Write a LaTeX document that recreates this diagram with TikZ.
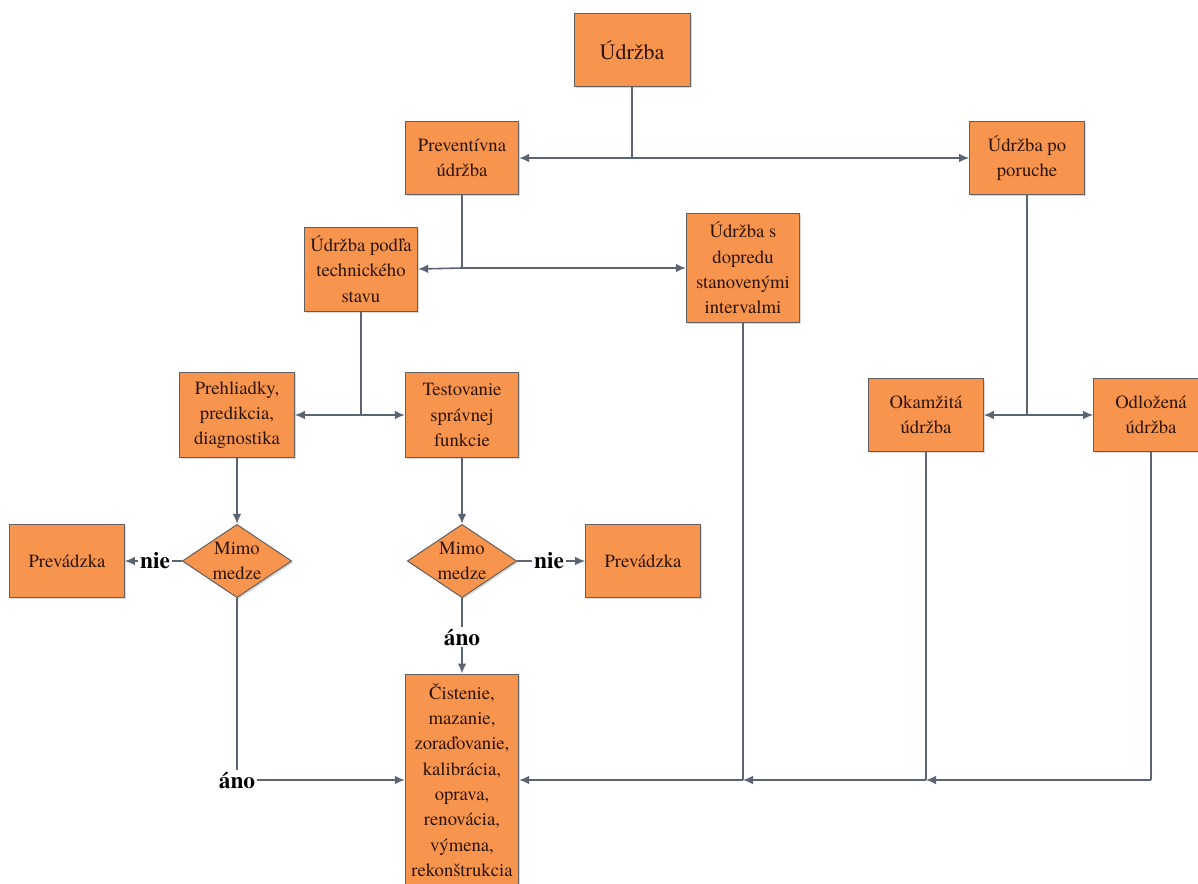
\documentclass[tikz,border=0pt]{standalone}
\usepackage{fontspec}
\setmainfont{texgyretermes-regular.otf}[BoldFont=texgyretermes-bold.otf]
\usetikzlibrary{arrows.meta,shapes.geometric,shadows}

\definecolor{boxfill}{RGB}{247,148,78}
\definecolor{boxline}{RGB}{100,95,95}
\definecolor{linkgray}{RGB}{92,100,115}
\definecolor{boxtext}{RGB}{45,20,8}

\tikzset{every picture/.style={line width=0.75pt}}
\tikzset{
	box/.style={draw=boxline, fill=boxfill, text=boxtext, align=center, inner sep=2pt,
		font=\fontsize{14}{19}\selectfont, minimum width=85pt, minimum height=55pt,
		drop shadow={shadow xshift=1.2pt, shadow yshift=-1.2pt, opacity=0.3}},
	choice/.style={diamond, aspect=1.5, inner sep=0pt, draw=boxline, fill=boxfill, text=boxtext,
		align=center, font=\fontsize{14}{19}\selectfont, minimum width=82pt, minimum height=55pt,
		drop shadow={shadow xshift=1.2pt, shadow yshift=-1.2pt, opacity=0.3}},
	answer/.style={font=\fontsize{17.5}{20}\selectfont\bfseries, text=black, inner sep=1pt},
	link/.style={draw=linkgray, line width=1.2pt},
	arr/.style={link, -{Latex[length=7.5pt,width=6.5pt]}}
}

\begin{document}
\begin{tikzpicture}[x=0.75pt,y=0.75pt,yscale=-1,xscale=1]
	\useasboundingbox (0,0) rectangle (1198,883);

	% boxes, top to bottom
	\node[box, minimum width=87pt, font=\fontsize{16.5}{20}\selectfont] (udrzba) at (632,50) {Údržba};
	\node[box] (prev) at (462,158) {Preventívna\\údržba};
	\node[box, minimum width=86pt] (poruche) at (1027,158) {Údržba po\\poruche};
	\node[box, minimum height=63pt] (podla) at (361,269) {Údržba podľa\\technického\\stavu};
	\node[box, minimum height=82pt] (interv) at (743,268) {Údržba s\\dopredu\\stanovenými\\intervalmi};
	\node[box, minimum width=86pt, minimum height=64pt] (prehl) at (237,415) {Prehliadky,\\predikcia,\\diagnostika};
	\node[box, minimum height=64pt] (test) at (462,415) {Testovanie\\správnej\\funkcie};
	\node[box, minimum width=86pt] (okam) at (926,415) {Okamžitá\\údržba};
	\node[box, minimum width=86pt] (odloz) at (1151,415) {Odložená\\údržba};
	\node[choice] (dia1) at (237,561) {Mimo\\medze};
	\node[choice] (dia2) at (462,561) {Mimo\\medze};
	\node[box, minimum width=86pt] (prev1) at (67,561) {Prevádzka};
	\node[box, minimum width=86pt] (prev2) at (643,561) {Prevádzka};
	\node[box, minimum height=159pt] (cist) at (462,780) {Čistenie,\\mazanie,\\zoraďovanie,\\kalibrácia,\\oprava,\\renovácia,\\výmena,\\rekonštrukcia};

	% answers
	\node[answer] (nie1) at (155,561) {nie};
	\node[answer] (nie2) at (549,561) {nie};
	\node[answer] (ano1) at (237,780) {áno};
	\node[answer] (ano2) at (462,637) {áno};

	% junctions
	\coordinate (j1) at (632,158);
	\coordinate (j2) at (462,268);
	\coordinate (j3) at (361,415);
	\coordinate (j4) at (1027,415);
	\coordinate (j5) at (743,780);
	\coordinate (j6) at (926,780);
	\coordinate (j7) at (1151,780);

	% connectors
	\draw[link] (udrzba) -- (j1);
	\draw[arr] (j1) -- (prev.east);
	\draw[arr] (j1) -- (poruche.west);
	\draw[link] (prev) -- (j2);
	\draw[arr] (j2) -- (podla.east);
	\draw[arr] (j2) -- (interv.west);
	\draw[link] (podla) -- (j3);
	\draw[arr] (j3) -- (prehl.east);
	\draw[arr] (j3) -- (test.west);
	\draw[link] (poruche) -- (j4);
	\draw[arr] (j4) -- (okam.east);
	\draw[arr] (j4) -- (odloz.west);
	\draw[arr] (prehl) -- (dia1);
	\draw[arr] (test) -- (dia2);
	\draw[link] (dia1.west) -- (nie1.east);
	\draw[arr] (nie1.west) -- (prev1.east);
	\draw[link] (dia2.east) -- (nie2.west);
	\draw[arr] (nie2.east) -- (prev2.west);
	\draw[link] (dia2.south) -- (ano2.north);
	\draw[arr] (ano2.south) -- (cist.north);
	\draw[link] (dia1.south) -- (ano1.north);
	\draw[arr] (ano1.east) -- (cist.west);
	\draw[link] (odloz) -- (j7);
	\draw[arr] (j7) -- (j6);
	\draw[link] (okam) -- (j6);
	\draw[arr] (j6) -- (j5);
	\draw[link] (interv) -- (j5);
	\draw[arr] (j5) -- (cist.east);

\end{tikzpicture}
\end{document}
